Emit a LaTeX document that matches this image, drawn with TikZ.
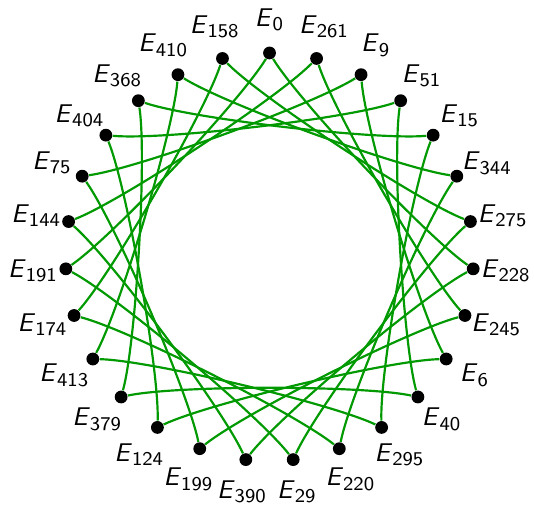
\documentclass[tikz,border=0pt]{standalone}
\usepackage{fontspec}
\definecolor{cgreen}{RGB}{0,153,0}
\newcommand{\ecurve}[1]{\textit{E}$_{\mbox{\fontsize{7.6}{9}\selectfont #1}}$}
\tikzset{isograph/.style={font=\sffamily},
  curvepoint/.style={circle,fill=black,inner sep=0pt,minimum size=5pt},
  curvename/.style={inner sep=0pt},
  isogeny/.style={draw=cgreen,line width=0.85pt}}

\begin{document}
\begin{tikzpicture}[isograph]
    \useasboundingbox (-3.699,-3.445) rectangle (3.630,3.527);
    \def\n{27}\def\r{2.8}
    % curves on the circle, clockwise from the top
    \foreach \k/\a in {0/0,1/261,2/9,3/51,4/15,5/344,6/275,7/228,8/245,9/6,10/40,11/295,12/220,13/29,14/390,15/199,16/124,17/379,18/413,19/174,20/191,21/144,22/75,23/404,24/368,25/410,26/158}
    {
      \pgfmathsetmacro\ang{90-\k*360/\n}
      \node[curvepoint] (e\k) at (\ang:\r) {};
      \node[curvename] (l\k) at (\ang:3.25) {\ecurve{\a}};
    }
    % 7-step isogenies, bent towards the middle
    \foreach \k in {0,...,26}
    {
      \pgfmathtruncatemacro\j{mod(\k+7,\n)}
      \draw[isogeny] (e\k) to[bend right=12,looseness=0.45] (e\j);
    }
  \end{tikzpicture}
\end{document}
